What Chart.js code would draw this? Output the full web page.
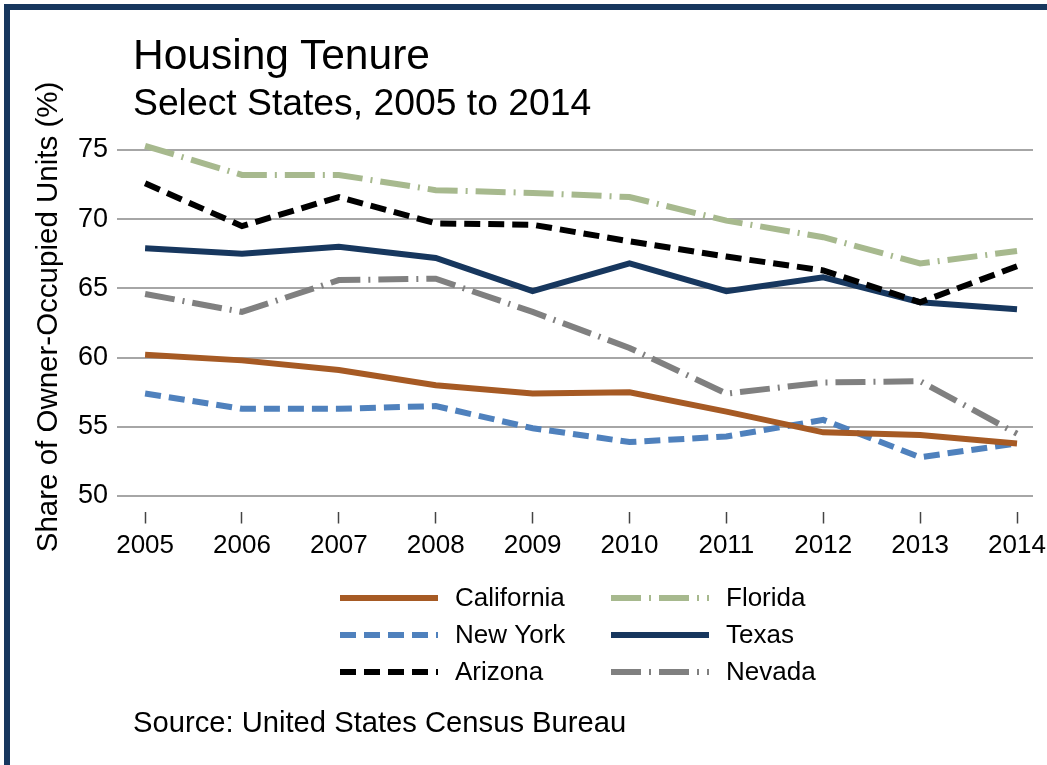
<!DOCTYPE html>
<html>
<head>
<meta charset="utf-8">
<script src="https://cdn.jsdelivr.net/npm/chart.js@4"></script>
<style>
  body { margin: 0; background: #fff; font-family: "Liberation Sans", Arial, sans-serif; }
  #wrap { position: relative; width: 1047px; height: 765px; overflow: hidden; }
  #frame { position: absolute; left: 4px; top: 4px; right: 0; bottom: 0; border-left: 6px solid #17375e; border-top: 6px solid #17375e; }
  canvas { position: absolute; left: 0; top: 0; }
  .txt { position: absolute; left: 133px; line-height: 1; white-space: nowrap; color: #000; }
  #title { top: 34px; font-size: 42.5px; }
  #subtitle { top: 84px; font-size: 37.3px; }
  #source { top: 708px; font-size: 29.2px; }
</style>
</head>
<body>
<div id="wrap">
  <div id="frame"></div>
  <canvas id="chart" width="1047" height="765"></canvas>
  <div class="txt" id="title">Housing Tenure</div>
  <div class="txt" id="subtitle">Select States, 2005 to 2014</div>
  <div class="txt" id="source">Source: United States Census Bureau</div>
</div>
<script>
// values
var years = [2005, 2006, 2007, 2008, 2009, 2010, 2011, 2012, 2013, 2014];

var california = [60.2, 59.8, 59.1, 58.0, 57.4, 57.5, 56.1, 54.6, 54.4, 53.8];
var newYork    = [57.4, 56.3, 56.3, 56.5, 54.9, 53.9, 54.3, 55.5, 52.8, 53.8];
var arizona    = [72.6, 69.5, 71.6, 69.7, 69.6, 68.4, 67.3, 66.3, 64.0, 66.6];
var florida    = [75.3, 73.2, 73.2, 72.1, 71.9, 71.6, 69.9, 68.7, 66.8, 67.7];
var texas      = [67.9, 67.5, 68.0, 67.2, 64.8, 66.8, 64.8, 65.8, 64.0, 63.5];
var nevada     = [64.6, 63.3, 65.6, 65.7, 63.3, 60.7, 57.4, 58.2, 58.3, 54.5];

var yTitle = 'Share of Owner-Occupied Units (%)';

var FONT = "Liberation Sans";
var dashDot = [30, 8, 2, 8];
var dash = [16, 8];

function series(label, data, color, borderDash) {
    return {
        label: label,
        data: data,
        borderColor: color,
        backgroundColor: color,
        borderWidth: 6,
        borderDash: borderDash,
        borderCapStyle: 'butt',
        pointRadius: 0,
        tension: 0,
        fill: false,
        clip: false
    };
}

// legend drawn in two columns (California/New York/Arizona, then Florida/Texas/Nevada)
var legendCols = [340, 611];
var legendRows = [598, 635, 672];

var extras = {
    id: 'extras',
    afterDraw: function(chart) {
        var ctx = chart.ctx;
        var sets = chart.data.datasets;
        ctx.save();
        ctx.font = '26px "' + FONT + '"';
        ctx.textBaseline = 'middle';
        ctx.textAlign = 'left';
        for (var i = 0; i < sets.length; i++) {
            var ds = sets[i];
            var x = legendCols[Math.floor(i / 3)];
            var y = legendRows[i % 3];
            ctx.strokeStyle = ds.borderColor;
            ctx.lineWidth = 6;
            ctx.lineCap = 'butt';
            ctx.setLineDash(ds.borderDash || []);
            ctx.beginPath();
            ctx.moveTo(x, y);
            ctx.lineTo(x + 98, y);
            ctx.stroke();
            ctx.setLineDash([]);
            ctx.fillStyle = '#000';
            ctx.fillText(ds.label, x + 115, y + 1);
        }
        // y axis title, rotated
        ctx.translate(49, 317);
        ctx.rotate(-Math.PI / 2);
        ctx.textAlign = 'center';
        ctx.font = '29.5px "' + FONT + '"';
        ctx.fillText(yTitle, 0, 0);
        ctx.restore();
    }
};

var ctx = document.getElementById('chart');

var chart = new Chart(ctx, {
    type: 'line',
    data: {
        labels: years,
        datasets: [
            series('California', california, '#a65a24', []),
            series('New York', newYork, '#4f81bd', dash),
            series('Arizona', arizona, '#000000', dash),
            series('Florida', florida, '#a7b98e', dashDot),
            series('Texas', texas, '#17375e', []),
            series('Nevada', nevada, '#808080', dashDot)
        ]
    },
    options: {
        responsive: false,
        animation: false,
        layout: { padding: { left: 20, top: 150, right: 14, bottom: 193.5 } },
        plugins: {
            legend: { display: false },
            tooltip: { enabled: false }
        },
        scales: {
            x: {
                type: 'linear',
                min: 2004.71,
                max: 2014.165,
                border: { display: false },
                grid: {
                    drawOnChartArea: false,
                    drawTicks: true,
                    tickLength: 12,
                    tickColor: '#444',
                    tickWidth: 1.5
                },
                ticks: {
                    stepSize: 1,
                    includeBounds: false,
                    padding: 7,
                    color: '#000',
                    font: { family: FONT, size: 26 },
                    callback: function(v) { return String(v); }
                },
                afterFit: function(axis) {
                    axis.height = 60;
                    axis.paddingLeft = 0;
                    axis.paddingRight = 0;
                }
            },
            y: {
                min: 48.88,
                max: 75,
                border: { display: false },
                grid: { color: '#a6a6a6', lineWidth: 2, drawTicks: false },
                ticks: {
                    stepSize: 5,
                    includeBounds: false,
                    padding: 9,
                    color: '#000',
                    font: { family: FONT, size: 27 }
                },
                afterFit: function(axis) { axis.width = 97; }
            }
        }
    },
    plugins: [extras]
});
</script>
</body>
</html>
